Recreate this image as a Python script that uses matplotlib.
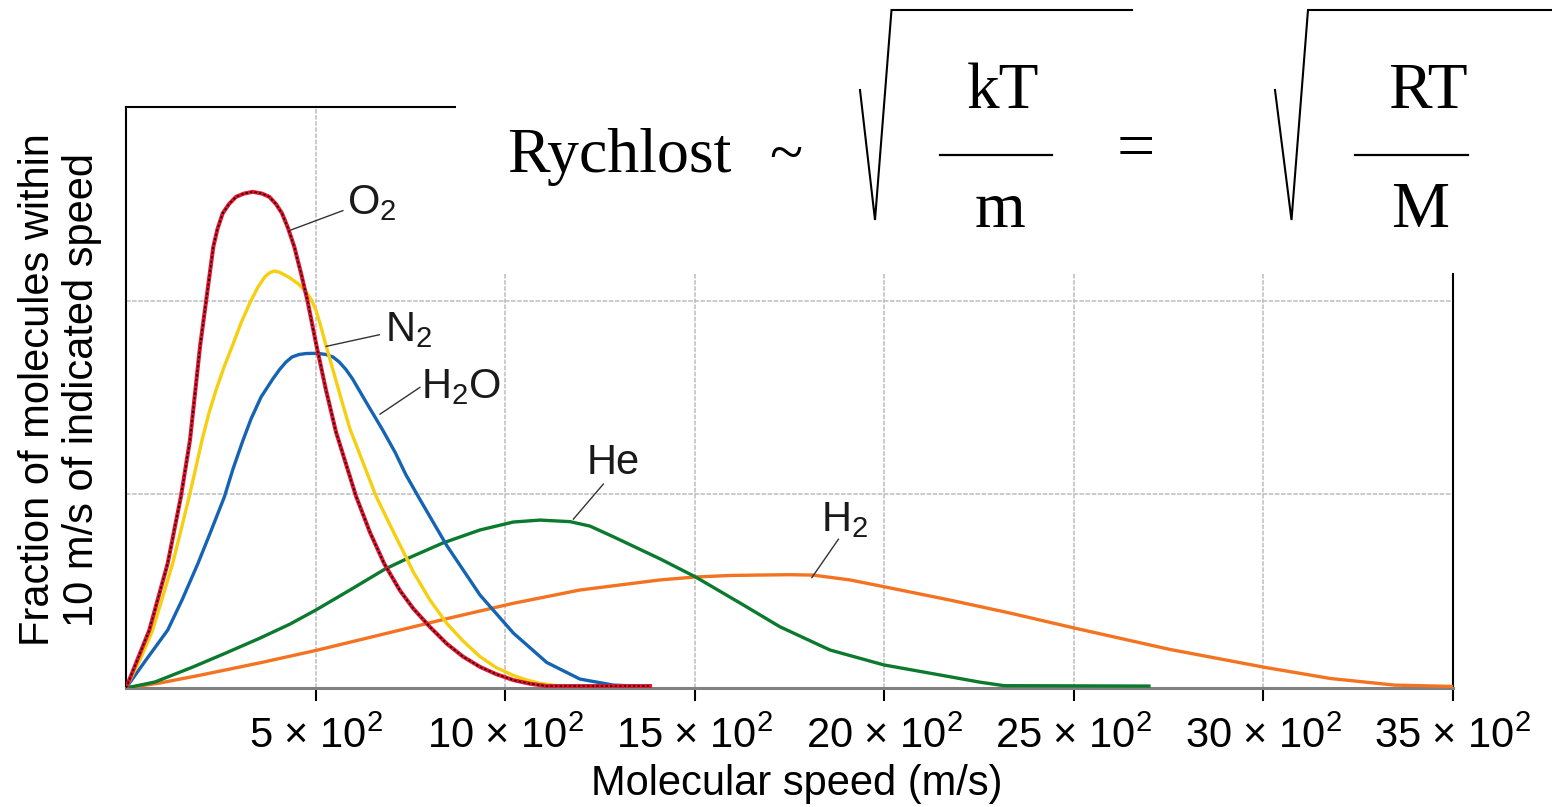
import matplotlib
matplotlib.use('Agg')
import matplotlib.pyplot as plt
from matplotlib.lines import Line2D
from matplotlib.patches import Rectangle

# ---------------- data ----------------
x_ticks = [500, 1000, 1500, 2000, 2500, 3000, 3500]
x_tick_labels = [r'5 × 10$^{2}$', r'10 × 10$^{2}$', r'15 × 10$^{2}$', r'20 × 10$^{2}$',
                 r'25 × 10$^{2}$', r'30 × 10$^{2}$', r'35 × 10$^{2}$']

o2_speed = [0, 61.5, 110, 145.1, 168.8, 195.2, 211, 230.3, 241.3, 255, 271.7, 290.1, 311.2,
            334.2, 358.7, 378, 395.6, 411.5, 427.3, 443.9, 461.6, 479.2, 503, 527.5, 553.9,
            606.6, 643.6, 681.3, 722.7, 757.8, 801.8, 845.9, 888.9, 933.7, 975.9, 1021.5,
            1065.6, 1109.6, 1382]
o2_value = [0, 0.299, 0.644, 0.991, 1.280, 1.762, 1.994, 2.278, 2.370, 2.451, 2.499, 2.536,
            2.553, 2.562, 2.553, 2.536, 2.499, 2.451, 2.375, 2.278, 2.142, 1.994, 1.762,
            1.538, 1.322, 0.991, 0.803, 0.641, 0.503, 0.410, 0.315, 0.229, 0.162, 0.109,
            0.072, 0.041, 0.022, 0.010, 0.010]

n2_speed = [0, 36.9, 70.4, 95, 123.2, 145.1, 167, 184.6, 200.5, 218.9, 237.4, 258.5, 279.6,
            303.3, 327.1, 347.4, 366.6, 379.8, 391.1, 403.5, 419.4, 432.6, 453.7, 472.1,
            487.9, 501.1, 514.3, 525.7, 546, 568.4, 590.8, 602.2, 659.4, 699, 738.5, 757.8,
            801.8, 845.9, 888.9, 933.7, 975.9, 1021.5, 1057.6, 1092, 1131.5]
n2_value = [0, 0.145, 0.299, 0.459, 0.644, 0.816, 0.991, 1.141, 1.280, 1.420, 1.538, 1.657,
            1.762, 1.884, 1.990, 2.068, 2.124, 2.145, 2.153, 2.148, 2.132, 2.117, 2.088,
            2.052, 2.008, 1.951, 1.864, 1.781, 1.642, 1.487, 1.337, 1.280, 0.991, 0.831,
            0.676, 0.599, 0.454, 0.334, 0.243, 0.162, 0.106, 0.065, 0.041, 0.024, 0.013]

h2o_speed = [0, 52.8, 110, 147.7, 189.1, 224.2, 259.3, 282.2, 307.8, 329.7, 356.1, 386.9,
             404.9, 422, 437.8, 456.3, 474.8, 492.4, 509.1, 527.5, 546, 562.6, 580.3, 597.9,
             633, 677, 709.5, 738.5, 775.4, 845.9, 933.7, 1021.5, 1109.6, 1197.4, 1285.3,
             1355.7]
h2o_value = [0, 0.145, 0.299, 0.454, 0.640, 0.811, 0.986, 1.131, 1.275, 1.389, 1.502, 1.595,
             1.644, 1.683, 1.709, 1.722, 1.727, 1.728, 1.727, 1.722, 1.709, 1.683, 1.644,
             1.595, 1.477, 1.332, 1.218, 1.100, 0.973, 0.736, 0.480, 0.284, 0.132, 0.046,
             0.015, 0.009]

he_speed = [0, 76.5, 175.9, 263.8, 351.6, 432.6, 501.1, 590.8, 683.1, 735.9, 836.1, 933.7,
            1021.5, 1091.9, 1171, 1223.8, 1285.3, 1408.4, 1500.7, 1619.5, 1724.9, 1857,
            1999.2, 2173.3, 2252.5, 2315.8, 2698]
he_value = [0, 0.031, 0.108, 0.181, 0.256, 0.330, 0.403, 0.506, 0.614, 0.663, 0.749, 0.816,
            0.857, 0.867, 0.859, 0.836, 0.781, 0.667, 0.575, 0.439, 0.316, 0.196, 0.119,
            0.058, 0.030, 0.012, 0.010]

h2_speed = [0, 89.7, 195.2, 353.4, 501.1, 669.9, 844, 1020.7, 1197.4, 1408.4, 1500.7, 1593.1,
            1664.3, 1751.3, 1812, 1909.6, 1999.2, 2173.3, 2331.6, 2500.4, 2753.6, 3005.5,
            3177, 3345.7, 3500]
h2_value = [0, 0.026, 0.066, 0.130, 0.194, 0.274, 0.357, 0.437, 0.506, 0.558, 0.573, 0.581,
            0.583, 0.585, 0.583, 0.558, 0.523, 0.454, 0.387, 0.310, 0.199, 0.106, 0.049,
            0.015, 0.008]

gas_labels = ['O$_2$', 'N$_2$', 'H$_2$O', 'He', 'H$_2$']

# ---------------- figure ----------------
plt.rcParams['font.family'] = ['Liberation Sans', 'DejaVu Sans']
plt.rcParams['mathtext.fontset'] = 'custom'
plt.rcParams['mathtext.rm'] = 'Liberation Sans'
plt.rcParams['mathtext.it'] = 'Liberation Sans:italic'
plt.rcParams['mathtext.bf'] = 'Liberation Sans:bold'

W, H = 1552, 807
fig = plt.figure(figsize=(W / 100, H / 100), dpi=100)


def fx(x):
    return x / W


def fy(y):
    return 1 - y / H


ax = fig.add_axes([fx(126), fy(688), fx(1453) - fx(126), fy(107) - fy(688)])
ax.set_xlim(0, 3500)
ax.set_ylim(0, 3)

ax.set_xticks(x_ticks)
ax.set_xticklabels(x_tick_labels)
ax.set_yticks([1, 2])
ax.tick_params(axis='x', direction='out', length=9.5, width=1.5, pad=11, labelsize=30,
               color='black')
ax.tick_params(axis='y', length=0, labelleft=False)
ax.grid(True, color='#bdbdbd', linestyle=(0, (3, 1.0)), linewidth=1.1, zorder=0)
ax.set_axisbelow(True)

for side in ['left', 'top', 'right']:
    ax.spines[side].set_color('black')
    ax.spines[side].set_linewidth(1.5)
ax.spines['bottom'].set_color('#808080')
ax.spines['bottom'].set_linewidth(2.2)

lw = 2.4
ax.plot(h2_speed, h2_value, color='#f37321', lw=lw, solid_joinstyle='round', zorder=3)
ax.plot(he_speed, he_value, color='#0b7a2e', lw=lw, solid_joinstyle='round', zorder=3)
ax.plot(h2o_speed, h2o_value, color='#1563b3', lw=lw, solid_joinstyle='round', zorder=3)
ax.plot(n2_speed, n2_value, color='#f5cf10', lw=lw, solid_joinstyle='round', zorder=3)
ax.plot(o2_speed, o2_value, color='#e5142f', lw=2.9, solid_joinstyle='round', zorder=4)
ax.plot(o2_speed, o2_value, color='black', lw=1.1, linestyle=(0, (1.5, 1.5)), zorder=4)

# label leader lines and labels
lab_kw = dict(fontsize=30, color='#1a1a1a', ha='left', va='baseline', zorder=6)
lead_kw = dict(color='#333333', lw=1.0, zorder=5)
ax.plot([435, 572], [2.365, 2.465], **lead_kw)
ax.text(582, 2.445, gas_labels[0], **lab_kw)
ax.plot([528, 668], [1.764, 1.824], **lead_kw)
ax.text(684, 1.790, gas_labels[1], **lab_kw)
ax.plot([670, 775], [1.414, 1.552], **lead_kw)
ax.text(778, 1.495, gas_labels[2], **lab_kw)
ax.plot([1180, 1259], [0.872, 1.053], **lead_kw)
ax.text(1216, 1.106, gas_labels[3], **lab_kw)
ax.plot([1809, 1879], [0.570, 0.768], **lead_kw)
ax.text(1832, 0.811, gas_labels[4], **lab_kw)

# axis titles
fig.text(fx(797), fy(795), 'Molecular speed (m/s)', ha='center', va='baseline', fontsize=30)
fig.text(fx(60), fy(390), 'Fraction of molecules within\n10 m/s of indicated speed',
         rotation=90, ha='center', va='center', fontsize=30, linespacing=1.12,
         multialignment='center')

# white panel behind the formula
fig.add_artist(Rectangle((fx(456), fy(273)), 1 - fx(456), 1 - fy(273),
                         transform=fig.transFigure, facecolor='white', edgecolor='none',
                         zorder=5))

serif = ['Liberation Serif', 'DejaVu Serif']
fkw = dict(family=serif, color='black', zorder=7, va='baseline')
fig.text(fx(507), fy(172), 'Rychlost', fontsize=46, ha='left', **fkw)
fig.text(fx(786), fy(172), '~', fontsize=44, ha='center', **fkw)
fig.text(fx(1003), fy(108), 'kT', fontsize=47, ha='center', **fkw)
fig.text(fx(1000), fy(227), 'm', fontsize=47, ha='center', **fkw)
fig.text(fx(1136), fy(168), '=', fontsize=49, ha='center', **fkw)
fig.text(fx(1428), fy(108), 'RT', fontsize=47, ha='center', **fkw)
fig.text(fx(1420), fy(227), 'M', fontsize=47, ha='center', **fkw)

line_kw = dict(transform=fig.transFigure, color='black', zorder=7, solid_joinstyle='miter')
fig.add_artist(Line2D([fx(940), fx(1052)], [fy(155), fy(155)], lw=1.6, **line_kw))
fig.add_artist(Line2D([fx(1355), fx(1468)], [fy(155), fy(155)], lw=1.6, **line_kw))
fig.add_artist(Line2D([fx(860), fx(875), fx(891.5), fx(1132)],
                      [fy(90), fy(220), fy(10), fy(10)], lw=1.5, **line_kw))
fig.add_artist(Line2D([fx(1275), fx(1291.5), fx(1308), fx(1552)],
                      [fy(90), fy(220), fy(10), fy(10)], lw=1.5, **line_kw))

fig.savefig('out.png', dpi=100, facecolor='white')
